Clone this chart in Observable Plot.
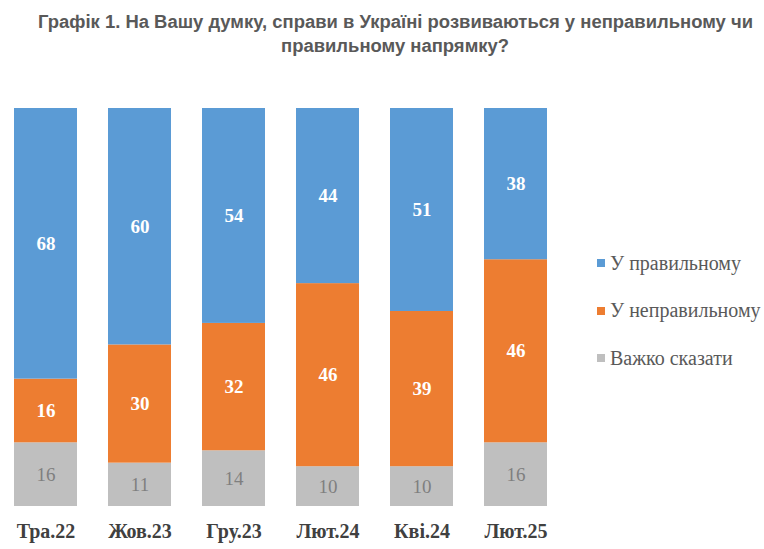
<!DOCTYPE html>
<html>
<head>
<meta charset="utf-8">
<script src="https://cdn.jsdelivr.net/npm/d3@7"></script>
<script src="https://cdn.jsdelivr.net/npm/@observablehq/plot@0.6"></script>
<style>
  body { margin: 0; background: #fff; }
  #wrap { position: relative; width: 764px; height: 549px; overflow: hidden; }
  .tline { position: absolute; left: 395px; white-space: nowrap;
    font-family: "Liberation Sans", Arial, sans-serif; font-weight: bold;
    font-size: 18px; line-height: 22px; color: #595959; }
  #chart { position: absolute; left: 0; top: 70px; }
  #legend { position: absolute; left: 597px; top: 250px; font-family: "Liberation Serif", serif;
    font-size: 20px; color: #595959; }
  .item { display: flex; align-items: center; height: 26px; margin-bottom: 21.5px; }
  .sw { width: 8px; height: 8px; margin-right: 5px; }
</style>
</head>
<body>
<div id="wrap">
  <div class="tline" id="t1" style="top:11px">Графік 1. На Вашу думку, справи в Україні розвиваються у неправильному чи</div>
  <div class="tline" id="t2" style="top:35px">правильному напрямку?</div>
  <div id="chart"></div>
  <div id="legend"></div>
</div>
<script>
const dates = ["Тра.22", "Жов.23", "Гру.23", "Лют.24", "Кві.24", "Лют.25"];
const series = ["У правильному", "У неправильному", "Важко сказати"];
const colors = ["#5B9BD5", "#ED7D31", "#BFBFBF"];
const right = [68, 60, 54, 44, 51, 38];
const wrong = [16, 30, 32, 46, 39, 46];
const hard = [16, 11, 14, 10, 10, 16];

// condensed title: scale line 1 to the reference width
const t1 = document.getElementById("t1"), t2 = document.getElementById("t2");
const k = 715 / t1.getBoundingClientRect().width;
[t1, t2].forEach(t => {
  t.style.transformOrigin = "0 0";
  const w = t.getBoundingClientRect().width;
  t.style.left = (395 - w * k / 2) + "px";
  t.style.transform = `scaleX(${k})`;
});

const values = [right, wrong, hard];
const data = [];
[2, 1, 0].forEach(si => {
  dates.forEach((d, i) => data.push({date: d, series: series[si], value: values[si][i]}));
});
const stackOrder = [series[2], series[1], series[0]];

const stackOpts = (extra) => Plot.stackY({
  x: "date", y: "value", z: "series", order: stackOrder, offset: "normalize", ...extra
});

const plot = Plot.plot({
  width: 764,
  height: 479,
  marginLeft: 12,
  marginRight: 216,
  marginTop: 38,
  marginBottom: 43,
  x: {domain: dates, paddingInner: 0.335, paddingOuter: 0, label: null},
  y: {domain: [0, 1], axis: null},
  color: {domain: series, range: colors},
  style: {fontFamily: "Liberation Serif, serif", fontSize: "19px", background: "#fff"},
  marks: [
    Plot.barY(data, stackOpts({fill: "series", inset: 0})),
    Plot.text(data, stackOpts({
      text: d => d.series !== series[2] ? d.value : null,
      fill: "#ffffff", fontWeight: "bold", fontSize: 19
    })),
    Plot.text(data, stackOpts({
      text: d => d.series === series[2] ? d.value : null,
      fill: "#7f7f7f", fontSize: 19
    })),
    Plot.axisX({tickSize: 0, tickPadding: 17, fontWeight: "bold", fontSize: 20, fill: "#404040", label: null})
  ]
});
document.getElementById("chart").appendChild(plot);

const legend = document.getElementById("legend");
series.forEach((s, i) => {
  const it = document.createElement("div");
  it.className = "item";
  const sw = document.createElement("div");
  sw.className = "sw";
  sw.style.background = colors[i];
  const t = document.createElement("span");
  t.textContent = s;
  it.appendChild(sw); it.appendChild(t);
  legend.appendChild(it);
});
</script>
</body>
</html>
